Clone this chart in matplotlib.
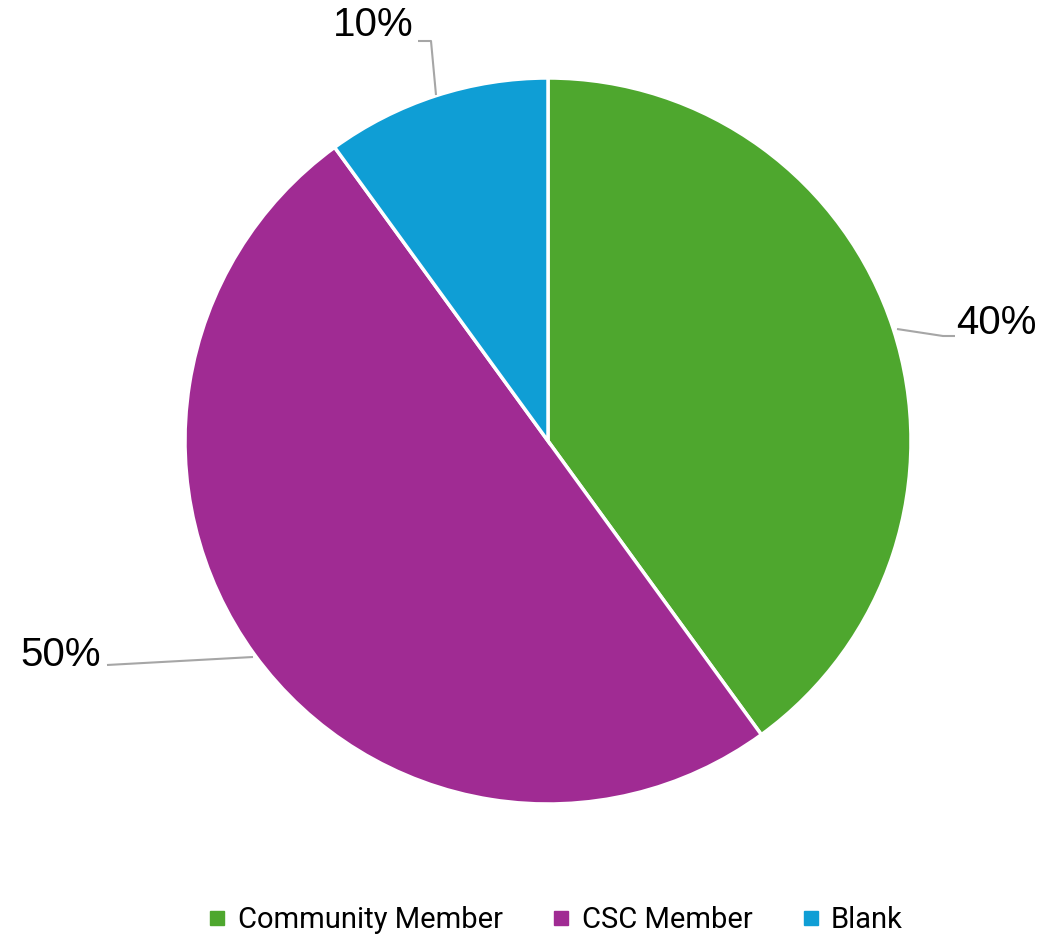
import matplotlib.pyplot as plt
from matplotlib.lines import Line2D

labels = ['Community Member', 'CSC Member', 'Blank']
values = [40, 50, 10]
colors = ['#4EA72E', '#A02B93', '#0F9ED5']

W, H = 1046, 938
cx, cy, r = 548, 441, 363

fig = plt.figure(figsize=(W / 100, H / 100), dpi=100)
ax = fig.add_axes([(cx - r) / W, (H - cy - r) / H, 2 * r / W, 2 * r / H])
ax.pie(values, colors=colors, startangle=90, counterclock=False,
       wedgeprops=dict(edgecolor='white', linewidth=2.5))
ax.set_xlim(-1, 1)
ax.set_ylim(-1, 1)
ax.set_aspect('equal')
ax.axis('off')


def d(px, py):
    return ((px - cx) / r, (cy - py) / r)


# leader lines (pixel paths) and label anchors
leaders = {
    'Blank': [(436, 95), (431, 41), (418, 41)],
    'Community Member': [(897, 329), (943, 336), (955, 336)],
    'CSC Member': [(253, 657), (107, 665)],
}
label_pos = {
    'Blank': ((413, 25), 'right'),
    'Community Member': ((956, 323), 'left'),
    'CSC Member': ((101, 655), 'right'),
}

for lab, val in zip(labels, values):
    pts = [d(*p) for p in leaders[lab]]
    ax.plot([p[0] for p in pts], [p[1] for p in pts], color='#A6A6A6',
            linewidth=1.5, clip_on=False, solid_capstyle='butt')
    (px, py), ha = label_pos[lab]
    x, y = d(px, py)
    ax.text(x, y, f'{val}%', ha=ha, va='center', fontsize=29,
            family='Liberation Sans', color='black', clip_on=False)

handles = [Line2D([], [], marker='s', linestyle='none', markersize=10,
                  markerfacecolor=c, markeredgecolor=c) for c in colors]
fig.legend(handles, labels, loc='lower center', bbox_to_anchor=(0.53, -0.024),
           ncol=3, frameon=False, prop=dict(family='Roboto', size=21),
           handlelength=0.8, handletextpad=0.3, columnspacing=1.6)

fig.savefig('out.png', dpi=100)
